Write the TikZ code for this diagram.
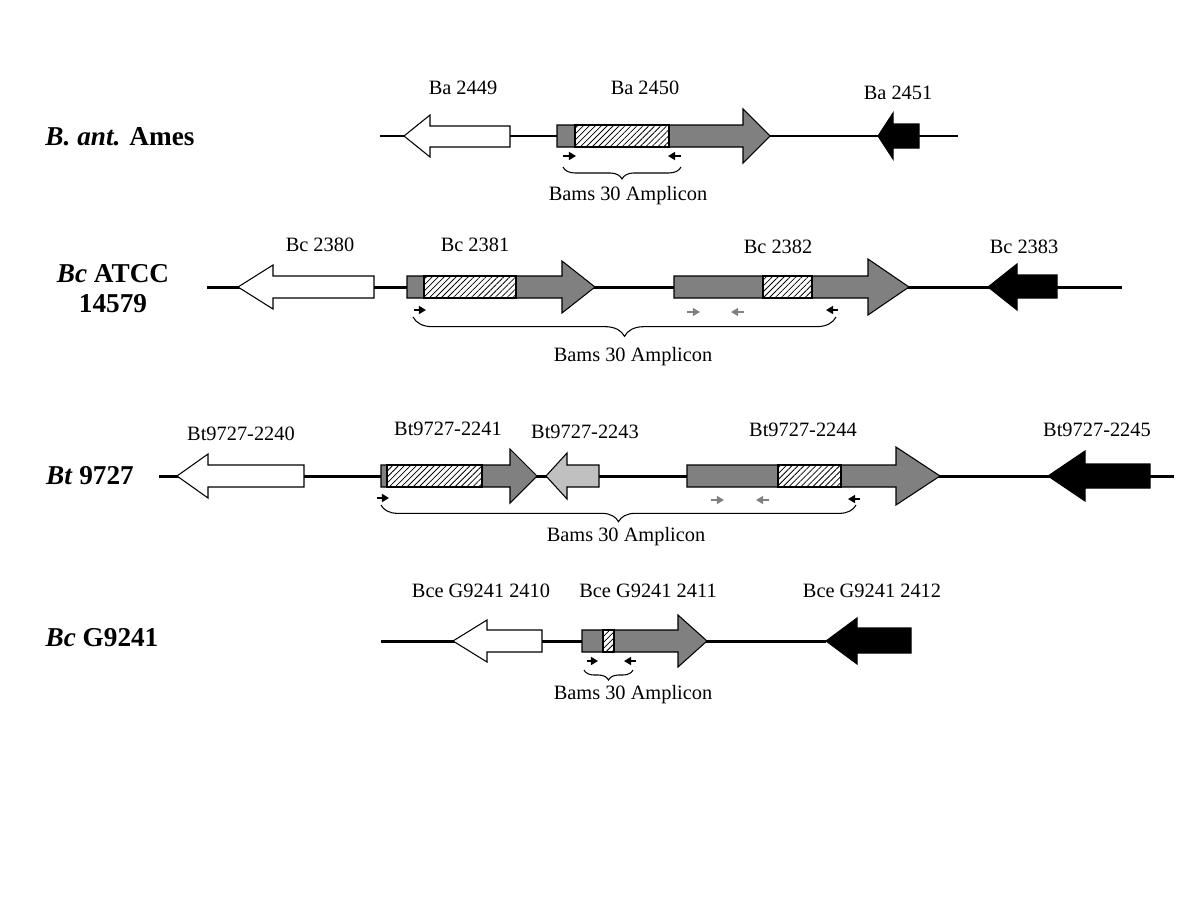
\documentclass[tikz,border=0pt]{standalone}
\usepackage{fontspec}
\setmainfont{Liberation Serif}
\usetikzlibrary{patterns.meta,decorations.pathreplacing,arrows.meta}
\definecolor{genegrey}{RGB}{128,128,128}
\definecolor{genelight}{RGB}{192,192,192}
\begin{document}
\begin{tikzpicture}[
            x=0.02cm, y=-0.02cm,
            strain/.style={font=\fontsize{15.5}{17}\selectfont\bfseries, align=center},
            genelabel/.style={font=\fontsize{11.6}{13}\selectfont},
            axis/.style={line width=1.7pt},
            gene/.style={draw=black, line width=0.6pt},
            hatch/.style={gene, pattern={Lines[angle=45,distance=2.4pt,line width=0.45pt]}},
            primer/.style={line width=0.9pt, -{Triangle[length=4pt,width=4.5pt]}},
            ampbrace/.style={decorate, decoration={brace, mirror, amplitude=#1}, line width=0.6pt}
        ]
        \useasboundingbox (0,0) rectangle (1200,900);

        % Strain labels
        \node[strain] (ames) at (120,137) {\textit{B. ant.} Ames};
        \node[strain] (atcc) at (113,289) {\textit{Bc} ATCC\\14579};
        \node[strain] (bt) at (90,476) {\textit{Bt} 9727};
        \node[strain] (g9241) at (102,638) {\textit{Bc} G9241};

        % Row 1: B. ant. Ames
        \draw[axis] (380,136) -- (958,136);
        \draw[gene, fill=white] (510,126) -- (430,126) -- (430,115) -- (404,136) -- (430,157) -- (430,147) -- (510,147) -- cycle;
        \draw[gene, fill=genegrey] (557,125) -- (743,125) -- (743,109) -- (770,136) -- (743,163) -- (743,147) -- (557,147) -- cycle;
        \draw[gene, fill=white] (575,125) rectangle (669,147);
        \draw[hatch] (575,125) rectangle (669,147);
        \draw[gene, fill=black] (919,124) -- (893,124) -- (893,113) -- (878,136) -- (893,159) -- (893,148) -- (919,148) -- cycle;
        \node[genelabel] (ba2449) at (463,88) {Ba 2449};
        \node[genelabel] (ba2450) at (645,88) {Ba 2450};
        \node[genelabel] (ba2451) at (898,93) {Ba 2451};
        \draw[primer] (563,156) -- (576,156);
        \draw[primer] (681,156) -- (668,156);
        \coordinate (amp1l) at (563,167);
        \coordinate (amp1r) at (681,167);
        \draw[ampbrace=6.8pt] (amp1l) -- (amp1r);
        \node[genelabel] (amp1) at (628,196) {Bams 30 Amplicon};

        % Row 2: Bc ATCC 14579
        \draw[axis] (207,287) -- (1122,287);
        \draw[gene, fill=white] (374,276) -- (273,276) -- (273,265) -- (238,287) -- (273,309) -- (273,298) -- (374,298) -- cycle;
        \draw[gene, fill=genegrey] (407,276) -- (562,276) -- (562,261) -- (595,287) -- (562,313) -- (562,298) -- (407,298) -- cycle;
        \draw[gene, fill=white] (424,276) rectangle (516,298);
        \draw[hatch] (424,276) rectangle (516,298);
        \draw[gene, fill=genegrey] (674,276) -- (868,276) -- (868,259) -- (909,287) -- (868,315) -- (868,298) -- (674,298) -- cycle;
        \draw[gene, fill=white] (763,276) rectangle (812,298);
        \draw[hatch] (763,276) rectangle (812,298);
        \draw[gene, fill=black] (1057,275) -- (1017,275) -- (1017,264) -- (988,287) -- (1017,310) -- (1017,298) -- (1057,298) -- cycle;
        \node[genelabel] (bc2380) at (320,245) {Bc 2380};
        \node[genelabel] (bc2381) at (475,245) {Bc 2381};
        \node[genelabel] (bc2382) at (778,247) {Bc 2382};
        \node[genelabel] (bc2383) at (1024,247) {Bc 2383};
        \draw[primer] (414,310) -- (426,310);
        \draw[primer, genegrey] (687,312) -- (700,312);
        \draw[primer, genegrey] (744,312) -- (731,312);
        \draw[primer] (838,310) -- (826,310);
        \coordinate (amp2l) at (413,317);
        \coordinate (amp2r) at (836,317);
        \draw[ampbrace=11pt] (amp2l) -- (amp2r);
        \node[genelabel] (amp2) at (633,357) {Bams 30 Amplicon};

        % Row 3: Bt 9727
        \draw[axis] (159,476) -- (1174,476);
        \draw[gene, fill=white] (304,465) -- (208,465) -- (208,454) -- (177,476) -- (208,498) -- (208,487) -- (304,487) -- cycle;
        \draw[gene, fill=genegrey] (381,465) -- (510,465) -- (510,449) -- (537,476) -- (510,503) -- (510,487) -- (381,487) -- cycle;
        \draw[gene, fill=white] (387,465) rectangle (482,487);
        \draw[hatch] (387,465) rectangle (482,487);
        \draw[gene, fill=genelight] (599,465) -- (567,465) -- (567,453) -- (546,476) -- (567,499) -- (567,487) -- (599,487) -- cycle;
        \draw[gene, fill=genegrey] (687,465) -- (896,465) -- (896,447) -- (940,476) -- (896,505) -- (896,487) -- (687,487) -- cycle;
        \draw[gene, fill=white] (778,465) rectangle (841,487);
        \draw[hatch] (778,465) rectangle (841,487);
        \draw[gene, fill=black] (1150,464) -- (1085,464) -- (1085,451) -- (1048,476) -- (1085,501) -- (1085,488) -- (1150,488) -- cycle;
        \node[genelabel] (bt2240) at (241,434) {Bt9727-2240};
        \node[genelabel] (bt2241) at (448,429) {Bt9727-2241};
        \node[genelabel] (bt2243) at (585,432) {Bt9727-2243};
        \node[genelabel] (bt2244) at (803,430) {Bt9727-2244};
        \node[genelabel] (bt2245) at (1097,430) {Bt9727-2245};
        \draw[primer] (377,498) -- (389,498);
        \draw[primer, genegrey] (711,500) -- (724,500);
        \draw[primer, genegrey] (769,500) -- (756,500);
        \draw[primer] (860,499) -- (848,499);
        \coordinate (amp3l) at (381,505);
        \coordinate (amp3r) at (856,505);
        \draw[ampbrace=9.5pt] (amp3l) -- (amp3r);
        \node[genelabel] (amp3) at (626,537) {Bams 30 Amplicon};

        % Row 4: Bc G9241
        \draw[axis] (381,641) -- (826,641);
        \draw[gene, fill=white] (542,630) -- (487,630) -- (487,620) -- (453,641) -- (487,662) -- (487,652) -- (542,652) -- cycle;
        \draw[gene, fill=genegrey] (582,630) -- (678,630) -- (678,615) -- (707,641) -- (678,667) -- (678,652) -- (582,652) -- cycle;
        \draw[gene, fill=white] (603,630) rectangle (614,652);
        \draw[hatch] (603,630) rectangle (614,652);
        \draw[gene, fill=black] (911,628) -- (857,628) -- (857,618) -- (826,641) -- (857,664) -- (857,653) -- (911,653) -- cycle;
        \node[genelabel] (bce2410) at (481,591) {Bce G9241 2410};
        \node[genelabel] (bce2411) at (648,591) {Bce G9241 2411};
        \node[genelabel] (bce2412) at (872,591) {Bce G9241 2412};
        \draw[primer] (587,661) -- (598,661);
        \draw[primer] (636,661) -- (624,661);
        \coordinate (amp4l) at (584,670);
        \coordinate (amp4r) at (633,670);
        \draw[ampbrace=5.7pt] (amp4l) -- (amp4r);
        \node[genelabel] (amp4) at (633,695) {Bams 30 Amplicon};

    \end{tikzpicture}
\end{document}
